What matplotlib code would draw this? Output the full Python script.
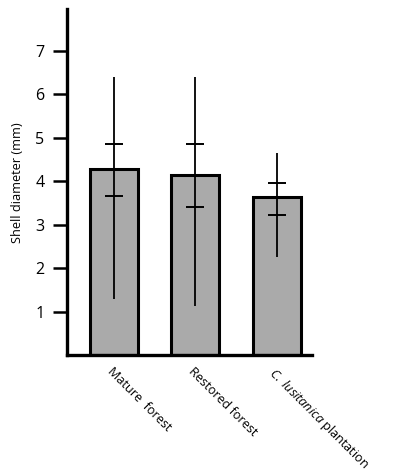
import matplotlib
matplotlib.use("Agg")
import matplotlib.pyplot as plt
import numpy as np

plt.rcParams["font.family"] = ["Open Sans", "DejaVu Sans"]
plt.rcParams["mathtext.fontset"] = "custom"
plt.rcParams["mathtext.it"] = "Open Sans:italic"
plt.rcParams["mathtext.rm"] = "Open Sans"

categories = ["Mature  forest", "Restored forest", r"$\mathit{C.\ lusitanica}$ plantation"]
means = [4.28, 4.14, 3.64]
range_low = [1.29, 1.13, 2.26]
range_high = [6.40, 6.40, 4.66]
inner_low = [3.67, 3.41, 3.23]
inner_high = [4.86, 4.85, 3.97]
y_ticks = [1, 2, 3, 4, 5, 6, 7]

fig = plt.figure(figsize=(3.94, 4.75), dpi=100)
ax = fig.add_axes([0.169, 0.252, 0.623, 0.729])

x = np.arange(len(categories))
ax.bar(x, means, width=0.585, color="#aaaaaa", edgecolor="black", linewidth=2.2, zorder=2)

# full range as a plain line, inner interval as short caps
ax.vlines(x, range_low, range_high, color="black", linewidth=1.3, zorder=3)
ax.scatter(x, inner_low, marker="_", s=180, color="black", linewidths=1.4, zorder=3)
ax.scatter(x, inner_high, marker="_", s=180, color="black", linewidths=1.4, zorder=3)

ax.set_xlim(-0.577, 2.43)
ax.set_ylim(0, 7.96)
ax.set_yticks(y_ticks)
ax.set_yticklabels([str(t) for t in y_ticks], fontsize=11.5)
ax.tick_params(axis="y", length=10, width=1.8, pad=6)
ax.tick_params(axis="x", length=0, pad=7)

ax.set_xticks(x)
ax.set_xticklabels(categories, rotation=-45, ha="left", va="top",
                   rotation_mode="anchor", fontsize=9.1)
ax.set_ylabel("Shell diameter (mm)", fontsize=9.2, labelpad=8)

for side in ["top", "right"]:
    ax.spines[side].set_visible(False)
for side in ["left", "bottom"]:
    ax.spines[side].set_linewidth(2.4)

fig.savefig("out.png", dpi=100)
